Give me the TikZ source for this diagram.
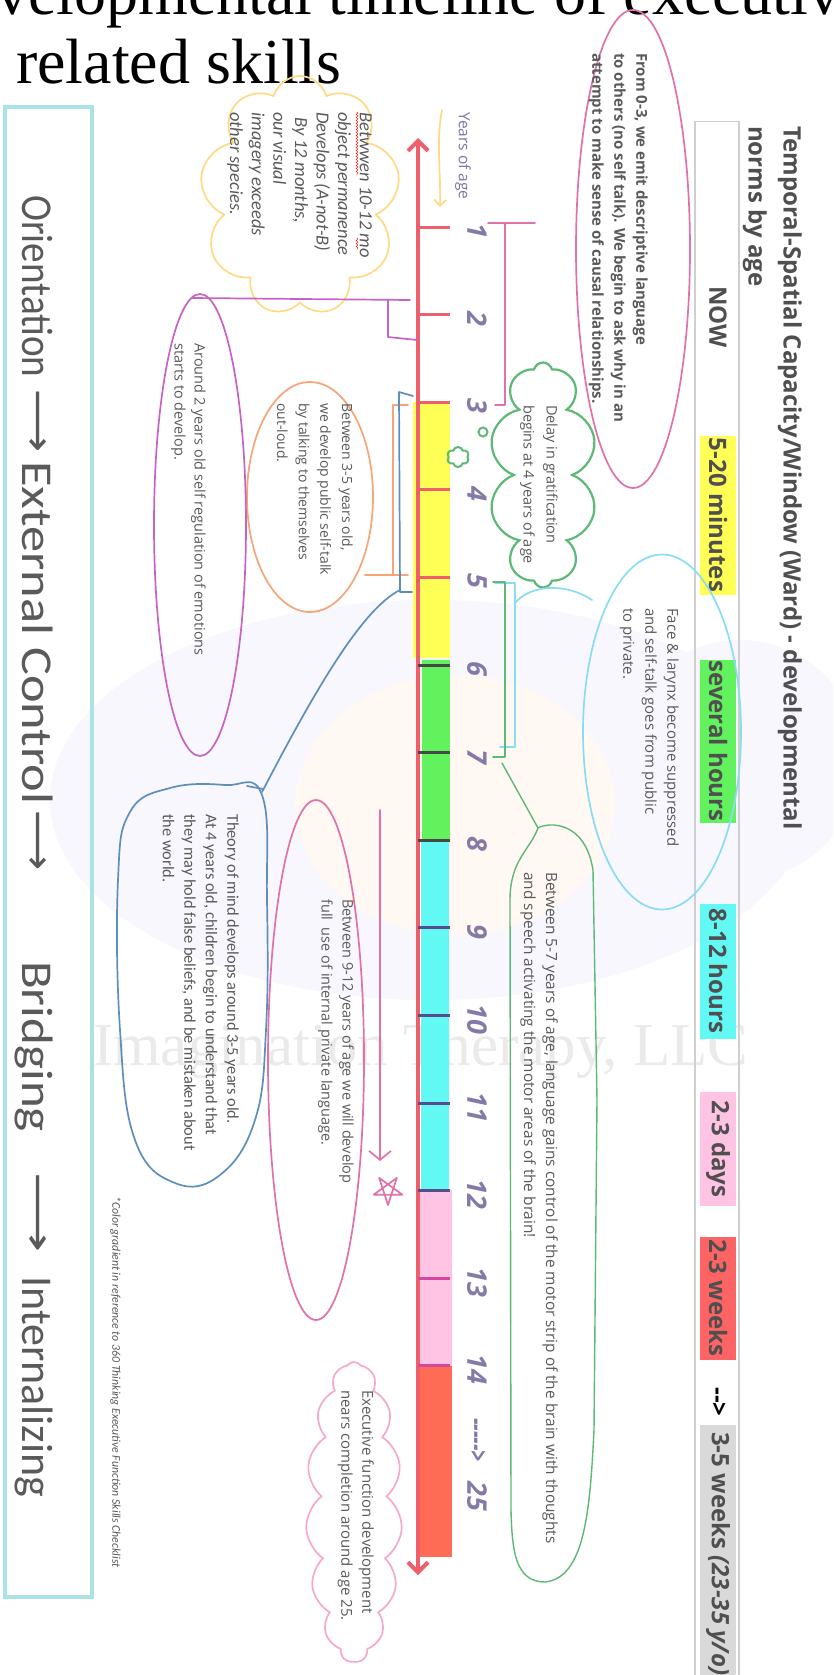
\documentclass[tikz,border=0pt]{standalone}
\usepackage{fontspec}
\setmainfont{Open Sans}
\newfontfamily\carl{Carlito}
\newfontfamily\lserif{Liberation Serif}
\newfontfamily\djv{DejaVu Sans}
\usetikzlibrary{shapes.symbols,shapes.geometric,arrows.meta,decorations.pathmorphing}
\newcommand\fsz[2]{\fontsize{#1}{#2}\selectfont}
\definecolor{axisred}{HTML}{EE5F6B}
\definecolor{txtgrey}{HTML}{5A5A5A}
\definecolor{lblgrey}{HTML}{4F4F4F}
\definecolor{numcol}{HTML}{8579A8}
\definecolor{ylw}{HTML}{FFFF55}
\definecolor{grn}{HTML}{62F25E}
\definecolor{cyn}{HTML}{62F8F4}
\definecolor{pnk}{HTML}{FFC4E4}
\definecolor{salm}{HTML}{FF6C55}
\definecolor{redlbl}{HTML}{FF6464}
\definecolor{lblg}{HTML}{D9D9D9}
\definecolor{pinkpen}{HTML}{E072AA}
\definecolor{purppen}{HTML}{C664C6}
\definecolor{orgpen}{HTML}{F5A577}
\definecolor{bluepen}{HTML}{5E8FBB}
\definecolor{cyanpen}{HTML}{88DDF5}
\definecolor{grnpen}{HTML}{5EB876}
\definecolor{ylwpen}{HTML}{FFD983}
\definecolor{cloudpink}{HTML}{F7A8CE}
\definecolor{boxteal}{HTML}{A9E3E3}
\definecolor{boxgrey}{HTML}{CFCFCF}
\definecolor{lav}{HTML}{F7F7FD}
\definecolor{peach}{HTML}{FFF8F3}
\definecolor{wmgrey}{HTML}{EAEAEA}
\definecolor{tickdark}{HTML}{474747}
\definecolor{tickpurp}{HTML}{5A4C8C}
\definecolor{tickmag}{HTML}{D2489A}
\definecolor{yrs}{HTML}{7C77A8}
\begin{document}
\begin{tikzpicture}[x=1pt,y=-1pt,
  rtxt/.style={rotate=-90,anchor=north west,inner sep=0pt,align=left,text=txtgrey},
  lbl/.style={rotate=-90,inner sep=0pt,text=lblgrey,font=\bfseries\fsz{24}{24}},
  num/.style={rotate=-90,inner sep=0pt,text=numcol,font=\bfseries\itshape\fsz{27}{27}},
  owrd/.style={rotate=-90,anchor=base west,inner sep=0pt,text=txtgrey,font=\carl\fsz{44}{44}},
  oarr/.style={rotate=-90,anchor=west,inner sep=0pt,text=txtgrey,font=\djv\fsz{40}{40}},
  mypen/.style={line width=1.7pt,line cap=round,line join=round},
  tk/.style={line width=3pt},
  ttl/.style={anchor=base west,inner sep=0pt,text=black,font=\lserif\fsz{64}{64}}
]
\useasboundingbox (0,0) rectangle (833,1675);
\clip (0,0) rectangle (833,1675);
\fill[white] (0,0) rectangle (833,1675);

% faint background shapes
\fill[lav] (430,800) ellipse [x radius=380pt, y radius=200pt];
\fill[lav] (740,760) circle [radius=120pt];
\fill[peach] (455,805) ellipse [x radius=160pt, y radius=130pt];
\node[anchor=base west,inner sep=0pt,text=wmgrey,font=\lserif\fsz{61}{61}] (wm) at (93,1065) {Imagination Therapy, LLC};

% title
\node[ttl] (title1) at (-4,15) {velopmental timeline of executive};
\node[ttl] (title2) at (16,84) {related skills};

% orientation box
\node[draw=boxteal,line width=4pt,minimum width=87pt,minimum height=1490pt,inner sep=0pt] (obox) at (48.5,852) {};
\node[owrd] (w1) at (22,195) {\scalebox{0.89}[1]{Orientation}};
\node[oarr] (a1) at (36,389) {\scalebox{1.1}[1]{⟶}};
\node[owrd] (w2) at (22,461) {\scalebox{1.19}[1]{External Control}};
\node[oarr] (a2) at (36,810) {\scalebox{1.05}[1]{⟶}};
\node[owrd] (w3) at (22,961) {\scalebox{1.16}[1]{Bridging}};
\node[oarr] (a3) at (36,1172) {\scalebox{1.4}[1]{⟶}};
\node[owrd] (w4) at (22,1276) {Internalizing};

% right header
\node[rtxt,font=\bfseries\fsz{24}{35},text=lblgrey] (ttl) at (802,126) {Temporal-Spatial Capacity/Window (Ward) - developmental\\norms by age};
\node[draw=boxgrey,line width=1.5pt,minimum width=44pt,minimum height=1600pt,inner sep=0pt,anchor=north] (gbox) at (717,121) {};
\fill[ylw] (700,436) rectangle (736,595);
\fill[grn] (700,660) rectangle (736,823);
\fill[cyn] (700,904) rectangle (736,1039);
\fill[pnk] (700,1092) rectangle (736,1206);
\fill[redlbl] (700,1237) rectangle (736,1360);
\fill[lblg] (700,1425) rectangle (736,1680);
\node[lbl] (lnow) at (718,317) {NOW};
\node[lbl] (l1) at (718,515) {5-20 minutes};
\node[lbl] (l2) at (718,741) {several hours};
\node[lbl] (l3) at (718,971) {8-12 hours};
\node[lbl] (l4) at (718,1149) {2-3 days};
\node[lbl] (l5) at (718,1298) {2-3 weeks};
\node[lbl,text=black] (l6) at (718,1402) {-{}-{}>};
\node[lbl,anchor=west] (l7) at (718,1432) {3-5 weeks \textit{(23-35 y/o)}};

% axis fills
\fill[ylw] (413,402) rectangle (450,658);
\fill[grn] (422,660) rectangle (450,840);
\fill[cyn] (421,840) rectangle (449,1190);
\fill[pnk] (420,1190) rectangle (452,1366);
\fill[salm] (420,1366) rectangle (452,1557);

% axis
\coordinate (axtop) at (418,138);
\coordinate (axbot) at (418,1575);
\draw[axisred,line width=4pt,{Straight Barb[length=10pt,width=20pt]}-{Straight Barb[length=10pt,width=20pt]}] (axbot) -- (axtop);
\foreach \n/\c in {1/axisred,2/axisred,3/axisred,4/axisred,5/axisred,6/tickdark,7/tickdark,8/tickdark,9/tickpurp,10/tickpurp,11/tickpurp,12/tickpurp,13/tickmag,14/tickmag}{
  \pgfmathsetmacro\ty{227+(\n-1)*87.6}
  \draw[tk,\c] (418,\ty) -- (450,\ty);
  \node[num] (n\n) at (477,\ty+4) {\n};
}
\node[num,anchor=west] (ndash) at (477,1418) {\scalebox{0.75}[1]{-{}-{}-{}-{}-{}>}};
\node[num] (n25) at (477,1496) {25};
\node[rtxt,font=\fsz{15.5}{18},text=yrs] (tyrs) at (471,112) {Years of age};
\draw[ylwpen,mypen,-{Straight Barb[length=6pt,width=12pt]}] (442,110) .. controls (436,140) and (441,175) .. (440,207);

% yellow cloud
\node[cloud,cloud puffs=9,cloud ignores aspect,draw=ylwpen,mypen,minimum width=200pt,minimum height=240pt,inner sep=0pt] (ycloud) at (300,196) {};
\node[rtxt,font=\carl\itshape\fsz{18.5}{21.6}] (tyc) at (372,112) {Betwwen 10-12 mo\\object permanence\\Develops (A-not-B)\\\hspace*{5pt}By 12 months,\\our visual\\imagery exceeds\\other species.};
\draw[red,decorate,decoration={snake,amplitude=1pt,segment length=3pt}] (357,112) -- (357,175);
\draw[red,decorate,decoration={snake,amplitude=1pt,segment length=3pt}] (357,238) -- (357,250);

% pink ellipse 0-3
\node[ellipse,draw=pinkpen,mypen,minimum width=114pt,minimum height=478pt,inner sep=0pt] (pe1) at (633,249) {};
\node[rtxt,font=\bfseries\fsz{15}{22}] (tpink) at (648,53) {From 0-3, we emit descriptive language\\to others (no self talk). We begin to ask why in an\\attempt to make sense of causal relationships.};
\draw[pinkpen,mypen] (488,223) -- (535,223);
\draw[pinkpen,mypen] (505,223) -- (505,405) -- (495,405);

% green cloud
\node[cloud,cloud puffs=10,cloud ignores aspect,draw=grnpen,line width=2.2pt,minimum width=108pt,minimum height=225pt,inner sep=0pt] (gcloud) at (543,475) {};
\node[cloud,cloud puffs=6,draw=grnpen,line width=2pt,minimum width=22pt,minimum height=20pt,inner sep=0pt] (gpuff) at (458,457) {};
\node[circle,draw=grnpen,line width=2pt,minimum size=9pt,inner sep=0pt] (gdot) at (483,432) {};
\node[rtxt,font=\fsz{14.5}{23}] (tgc) at (558,405) {Delay in gratification\\begins at 4 years of age};

% cyan
\node[ellipse,draw=cyanpen,mypen,minimum width=158pt,minimum height=355pt,inner sep=0pt] (ce) at (662,732) {};
\node[rtxt,font=\fsz{15}{22}] (tcyan) at (679,608) {Face \& larynx become suppressed\\and self-talk goes from public\\to private.};
\draw[cyanpen,mypen] (495,583) -- (515,583) -- (515,747) -- (500,747);
\draw[cyanpen,mypen] (515,603) .. controls (530,585) and (565,582) .. (592,600);

% green loop
\draw[grnpen,mypen] (493,582) -- (505,582) -- (505,757) -- (493,757);
\coordinate (gj) at (538,828);
\draw[grnpen,mypen,line width=1.4pt] (502,763) -- (gj) .. controls (548,822) and (585,820) .. (593,870) -- (597,1100) -- (594,1430) .. controls (590,1510) and (585,1578) .. (545,1582) .. controls (515,1582) and (512,1550) .. (511,1510) -- (510,900) .. controls (510,860) and (530,850) .. (gj);
\node[rtxt,font=\fsz{15.4}{22}] (tgl) at (558,872) {Between 5-7 years of age, language gains control of the motor strip of the brain with thoughts\\and speech activating the motor areas of the brain!};

% orange
\node[ellipse,draw=orgpen,mypen,minimum width=126pt,minimum height=230pt,inner sep=0pt] (oe) at (310,497) {};
\node[rtxt,font=\fsz{14}{21.7}] (tor) at (353,403) {Between 3-5 years old,\\we develop public self-talk\\by talking to themselves\\out-loud.};
\draw[orgpen,mypen] (408,405) -- (393,405) -- (393,575);
\draw[orgpen,mypen] (365,575) -- (408,575);

% purple
\node[ellipse,draw=purppen,mypen,minimum width=92pt,minimum height=462pt,inner sep=0pt] (pue) at (200,525) {};
\node[rtxt,font=\fsz{14.5}{20}] (tpu) at (206,343) {Around 2 years old self regulation of emotions\\starts to develop.};
\draw[purppen,mypen] (192,298) -- (410,300);
\draw[purppen,mypen] (388,300) -- (388,337) -- (417,340);

% blue
\draw[bluepen,mypen] (413,396) -- (399,392) -- (400,592) -- (412,592);
\coordinate (bj) at (262,792);
\draw[bluepen,mypen] (400,590) .. controls (360,610) and (310,700) .. (bj);
\draw[bluepen,mypen] plot[smooth cycle,tension=0.7] coordinates {(262,795) (267,900) (266,1030) (255,1120) (220,1175) (175,1183) (135,1140) (120,1030) (118,880) (130,812) (170,788) (225,785)};
\draw[bluepen,mypen] (247,786) -- (263,789);
\node[rtxt,font=\carl\fsz{16.4}{21.5}] (tth) at (239,814) {Theory of mind develops around 3-5 years old.\\At 4 years old, children begin to understand that\\they may hold false beliefs, and be mistaken about\\the world.};

% pink 9-12
\node[ellipse,draw=pinkpen,mypen,minimum width=96pt,minimum height=520pt,inner sep=0pt] (pe2) at (316,1060) {};
\node[rtxt,font=\fsz{14.5}{21}] (tp2) at (354,899) {Between 9-12 years of age we will develop\\full~ use of internal private language.};
\draw[pinkpen,mypen,-{Straight Barb[length=9pt,width=22pt]}] (380,810) -- (380,1161);
\draw[pinkpen,mypen,shift={(388,1190)}] (90:15) -- (234:15) -- (18:15) -- (162:15) -- (306:15) -- cycle;

% pink cloud
\node[cloud,cloud puffs=15,cloud puff arc=110,cloud ignores aspect,draw=cloudpink,mypen,minimum width=96pt,minimum height=300pt,inner sep=0pt] (pcloud) at (354,1512) {};
\node[rtxt,font=\fsz{15}{21}] (tpc) at (374,1390) {Executive function development\\nears completion around age 25.};

% footnote
\node[rtxt,font=\carl\itshape\fsz{11.8}{14}] (tfoot) at (121,1196) {*Color gradient in reference to 360 Thinking Executive Function Skills Checklist};
\end{tikzpicture}
\end{document}
